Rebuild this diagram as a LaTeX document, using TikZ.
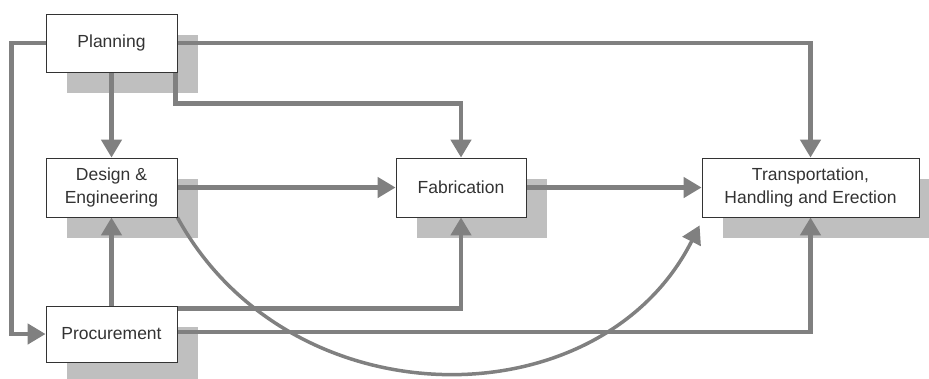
\documentclass[tikz,border=0pt]{standalone}
\usepackage{fontspec}
\setmainfont{Liberation Sans}
\usetikzlibrary{arrows.meta,backgrounds}

\begin{document}
\begin{tikzpicture}[x=1pt,y=-1pt,
    box/.style={draw=black!80, line width=0.8pt, fill=white, inner sep=0pt,
                align=center, text=black!80,
                font=\fontsize{17.5}{23}\selectfont},
    boxshade/.style={fill=gray!50},
    flow/.style={draw=gray, line width=4.5pt,
                 -{Triangle[length=18pt,width=20pt]}}]
    \useasboundingbox (0,0) rectangle (929,378);

    % Riquadri
    \node[box, minimum width=131pt, minimum height=58pt] (plan) at (111.5,43) {Planning};
    \node[box, minimum width=131pt, minimum height=59pt] (design) at (111.5,187.5) {Design \&\\Engineering};
    \node[box, minimum width=131pt, minimum height=56pt] (proc) at (111.5,334) {Procurement};
    \node[box, minimum width=130pt, minimum height=59pt] (fab) at (461,187.5) {Fabrication};
    \node[box, minimum width=217pt, minimum height=59pt] (trans) at (810.5,187.5) {Transportation,\\Handling and Erection};

    \begin{pgfonlayer}{background}
    % Ombre
    \foreach \b in {plan,design,proc,fab,trans}
        \fill[boxshade] ([shift={(21,21)}]\b.north west) rectangle ([shift={(21,21)}]\b.south east);

    % Collegamenti
    \draw[flow] (plan.west) -- ++(-34,0) |- (proc.west);
    \draw[flow] (plan.south) -- (design.north);
    \draw[flow] (plan.east) -| (trans.north);
    \draw[flow] ([shift={(-2,0)}]plan.south east) -- ++(0,31) -| (fab.north);
    \draw[flow] (design.east) -- (fab.west);
    \draw[flow] (fab.east) -- (trans.west);
    \draw[flow, line width=3.5pt] (design.south east) .. controls (290,423) and (600,423) .. ([shift={(-2,8)}]trans.south west);
    \draw[flow] (proc.north) -- (design.south);
    \draw[flow] ([shift={(0,3)}]proc.north east) -| (fab.south);
    \draw[flow] ([shift={(0,-2)}]proc.east) -| (trans.south);
    \end{pgfonlayer}
\end{tikzpicture}
\end{document}
